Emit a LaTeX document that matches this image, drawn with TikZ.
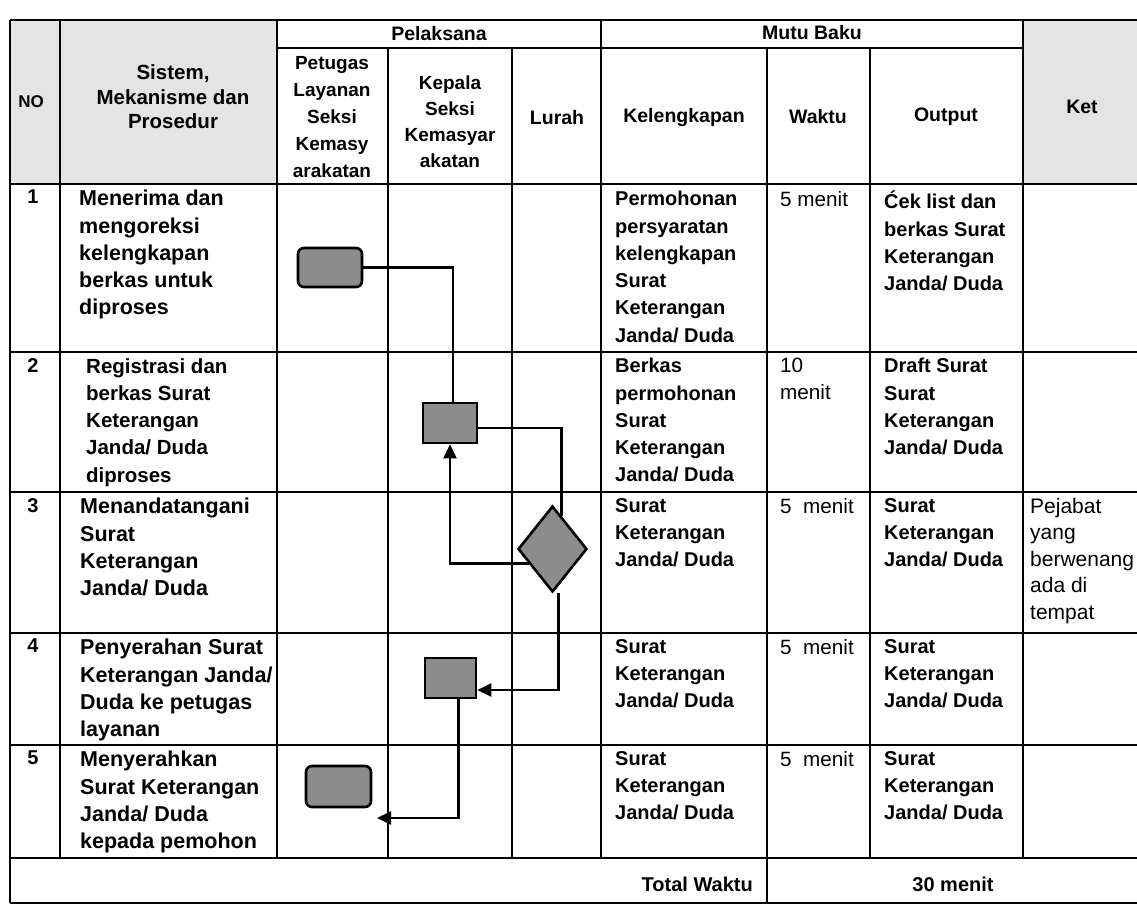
\documentclass[tikz,border=0pt]{standalone}
\usepackage{fontspec}
\setmainfont{Liberation Sans}
\usetikzlibrary{shapes.geometric,arrows.meta,calc}
\definecolor{shapegray}{RGB}{140,140,140}
\definecolor{headshade}{RGB}{228,228,228}
\begin{document}
\begin{tikzpicture}[x=1pt,y=-1pt,
  grid/.style={line width=1.6pt},
  hd/.style={font=\fontsize{19.5}{27}\selectfont\bfseries, align=center, inner sep=0},
  sis/.style={anchor=north west, font=\fontsize{21.5}{27.3}\selectfont\bfseries, align=left, inner sep=0},
  kel/.style={anchor=north west, font=\fontsize{20}{27.3}\selectfont\bfseries, align=left, inner sep=0},
  reg/.style={anchor=north west, font=\fontsize{20.7}{27.3}\selectfont, align=left, inner sep=0},
  num/.style={anchor=north, font=\fontsize{20}{27}\selectfont\bfseries, inner sep=0},
  tot/.style={font=\fontsize{20}{24}\selectfont\bfseries, inner sep=0},
  proc/.style={draw, line width=2.6pt, fill=shapegray, inner sep=0},
  conn/.style={line width=2.3pt},
  arr/.style={conn, -{Triangle[length=14pt,width=13pt]}}
]
\useasboundingbox (0,0) rectangle (1137,906);
\fill[white] (0,0) rectangle (1137,906);
% header shading
\fill[headshade] (10,20) rectangle (277,184);
\fill[headshade] (1023,20) rectangle (1137,184);
% horizontal rules
\draw[grid] (10,20) -- (1137,20);
\draw[grid] (277,48) -- (1023,48);
\foreach \yy in {184,352,492,633,745,858,903}
  \draw[grid] (10,\yy) -- (1137,\yy);
% vertical rules
\draw[grid] (10,20) -- (10,903);
\draw[grid] (60,20) -- (60,858);
\draw[grid] (277,20) -- (277,858);
\draw[grid] (388,48) -- (388,858);
\draw[grid] (512,48) -- (512,858);
\draw[grid] (601,20) -- (601,858);
\draw[grid] (767,48) -- (767,903);
\draw[grid] (870,48) -- (870,858);
\draw[grid] (1023,20) -- (1023,858);

% header texts
\node[hd, font=\fontsize{17}{20}\selectfont\bfseries] (hno) at (31,102) {NO};
\node[hd, font=\fontsize{20.5}{24.5}\selectfont\bfseries] (hsis) at (173,97) {Sistem,\\Mekanisme dan\\Prosedur};
\node[hd] (hpel) at (439,34) {Pelaksana};
\node[hd, font=\fontsize{19}{27}\selectfont\bfseries] (hpet) at (332,117) {Petugas\\Layanan\\Seksi\\Kemasy\\arakatan};
\node[hd, font=\fontsize{19}{26}\selectfont\bfseries] (hkep) at (450,122) {Kepala\\Seksi\\Kemasyar\\akatan};
\node[hd] (hlur) at (557,118) {Lurah};
\node[hd] (hmutu) at (812,33) {Mutu Baku};
\node[hd] (hkel) at (684,117) {Kelengkapan};
\node[hd] (hwak) at (818,117) {Waktu};
\node[hd] (hout) at (946,117) {Output};
\node[hd] (hket) at (1082,107) {Ket};

% row 1
\node[num] (n1) at (33,190) {1};
\node[sis] (s1) at (79,190) {Menerima dan\\mengoreksi\\kelengkapan\\berkas untuk\\diproses};
\node[kel] (k1) at (615,191) {Permohonan\\persyaratan\\kelengkapan\\Surat\\Keterangan\\Janda/ Duda};
\node[reg] (w1) at (780,191) {5 menit};
\node[kel] (o1) at (884,191) {Ćek list dan\\berkas Surat\\Keterangan\\Janda/ Duda};
% row 2
\node[num] (n2) at (33,358) {2};
\node[sis, font=\fontsize{20.5}{27.3}\selectfont\bfseries] (s2) at (86,358) {Registrasi dan\\berkas Surat\\Keterangan\\Janda/ Duda\\diproses};
\node[kel] (k2) at (615,358) {Berkas\\permohonan\\Surat\\Keterangan\\Janda/ Duda};
\node[reg] (w2) at (780,358) {10\\menit};
\node[kel] (o2) at (884,358) {Draft Surat\\Surat\\Keterangan\\Janda/ Duda};
% row 3
\node[num] (n3) at (33,498) {3};
\node[sis] (s3) at (80,498) {Menandatangani\\Surat\\Keterangan\\Janda/ Duda};
\node[kel] (k3) at (615,498) {Surat\\Keterangan\\Janda/ Duda};
\node[reg] (w3) at (780,498) {5\ \ menit};
\node[kel] (o3) at (884,498) {Surat\\Keterangan\\Janda/ Duda};
\node[reg, font=\fontsize{21}{26.5}\selectfont] (ket3) at (1030,498) {Pejabat\\yang\\berwenang\\ada di\\tempat};
% row 4
\node[num] (n4) at (33,639) {4};
\node[sis] (s4) at (80,639) {Penyerahan Surat\\Keterangan Janda/\\Duda ke petugas\\layanan};
\node[kel] (k4) at (615,639) {Surat\\Keterangan\\Janda/ Duda};
\node[reg] (w4) at (780,639) {5\ \ menit};
\node[kel] (o4) at (884,639) {Surat\\Keterangan\\Janda/ Duda};
% row 5
\node[num] (n5) at (33,751) {5};
\node[sis] (s5) at (80,751) {Menyerahkan\\Surat Keterangan\\Janda/ Duda\\kepada pemohon};
\node[kel] (k5) at (615,751) {Surat\\Keterangan\\Janda/ Duda};
\node[reg] (w5) at (780,751) {5\ \ menit};
\node[kel] (o5) at (884,751) {Surat\\Keterangan\\Janda/ Duda};
% total
\node[tot, anchor=east] (tw) at (753,884) {Total Waktu};
\node[tot] (tm) at (953,884) {30 menit};

% flow shapes
\node[proc, rounded corners=6pt, minimum width=64pt, minimum height=39pt] (p1) at (330,267.5) {};
\node[proc, minimum width=54pt, minimum height=40pt] (p2) at (450,423) {};
\node[proc, diamond, minimum width=69pt, minimum height=86pt] (p3) at (552.5,549) {};
\node[proc, minimum width=51pt, minimum height=40pt] (p4) at (450.5,678) {};
\node[proc, rounded corners=6pt, minimum width=65pt, minimum height=41pt] (p5) at (338.5,786.5) {};
\coordinate (end5) at (377,818);

% connectors
\draw[conn] (p1.east) -| ([xshift=3pt]p2.north);
\draw[conn] ([yshift=-5pt]p2.east) -| ($(p3.north)!0.25!(p3.east)$);
\draw[arr] ($(p3.west)!0.33!(p3.south)$) -| (p2.south);
\draw[arr] ([xshift=6pt]p3.south) |- ([yshift=-12pt]p4.east);
\draw[arr] ([xshift=8pt]p4.south) |- (end5);
\end{tikzpicture}
\end{document}
